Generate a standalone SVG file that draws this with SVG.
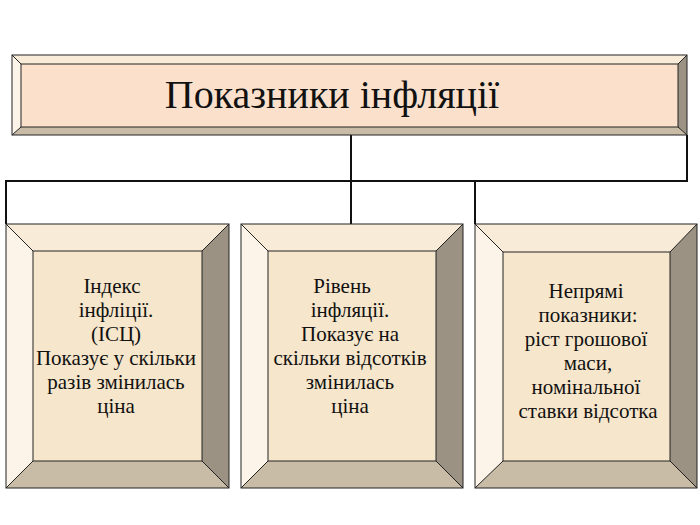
<svg xmlns="http://www.w3.org/2000/svg" width="700" height="525" viewBox="0 0 700 525">
<style>
.t{font-family:"Liberation Serif","Times New Roman",serif;font-size:21px;fill:#111;text-anchor:middle}
.ln{stroke:#111;stroke-width:2;fill:none}
.e{stroke:#222;stroke-width:1}
.top{fill:#f8ecd8}.lef{fill:#fcf4e8}.rig{fill:#9b9284}.bot{fill:#c9bca7}.face{fill:#f6e6cb}
</style>
<rect width="700" height="525" fill="#fff"/>
<g id="connectors" class="ln">
<path d="M351 135V224M6 224V181H687V135M475 181V224"/>
</g>
<g id="title">
<polygon class="top" points="12,55 687,55 678,64 21,64"/>
<polygon class="lef" points="12,55 21,64 21,127 12,135"/>
<polygon class="rig" points="687,55 687,135 678,127 678,64"/>
<polygon class="bot" points="12,135 687,135 678,127 21,127"/>
<rect x="21" y="64" width="657" height="63" fill="#fbe1cc" class="e"/>
<rect x="12" y="55" width="675" height="80" fill="none" class="e"/>
<path class="e" d="M12 55L21 64M687 55L678 64M12 135L21 127M687 135L678 127"/>
<text x="332" y="108" style="font-family:'Liberation Serif','Times New Roman',serif;font-size:40px;fill:#111;text-anchor:middle">Показники інфляції</text>
</g>
<g id="box1">
<polygon class="top" points="6,224 229,224 202,251 33,251"/>
<polygon class="lef" points="6,224 33,251 33,461 6,488"/>
<polygon class="rig" points="229,224 229,488 202,461 202,251"/>
<polygon class="bot" points="6,488 229,488 202,461 33,461"/>
<rect x="33" y="251" width="169" height="210" class="face e"/>
<rect x="6" y="224" width="223" height="264" fill="none" class="e"/>
<path class="e" d="M6 224L33 251M229 224L202 251M6 488L33 461M229 488L202 461"/>
<text class="t"><tspan x="112" y="293">Індекс</tspan><tspan x="116" y="317">інфліції.</tspan><tspan x="116" y="341">(ІСЦ)</tspan><tspan x="116" y="365">Показує у скільки</tspan><tspan x="116" y="389">разів змінилась</tspan><tspan x="116" y="413">ціна</tspan></text>
</g>
<g id="box2">
<polygon class="top" points="241,224 463,224 436,251 268,251"/>
<polygon class="lef" points="241,224 268,251 268,461 241,488"/>
<polygon class="rig" points="463,224 463,488 436,461 436,251"/>
<polygon class="bot" points="241,488 463,488 436,461 268,461"/>
<rect x="268" y="251" width="168" height="210" class="face e"/>
<rect x="241" y="224" width="222" height="264" fill="none" class="e"/>
<path class="e" d="M241 224L268 251M463 224L436 251M241 488L268 461M463 488L436 461"/>
<text class="t"><tspan x="342" y="293">Рівень</tspan><tspan x="350" y="317">інфляції.</tspan><tspan x="350" y="341">Показує на</tspan><tspan x="350" y="365">скільки відсотків</tspan><tspan x="350" y="389">змінилась</tspan><tspan x="350" y="413">ціна</tspan></text>
</g>
<g id="box3">
<polygon class="top" points="475,224 697,224 670,252 503,252"/>
<polygon class="lef" points="475,224 503,252 503,461 475,488"/>
<polygon class="rig" points="697,224 697,488 670,461 670,252"/>
<polygon class="bot" points="475,488 697,488 670,461 503,461"/>
<rect x="503" y="252" width="167" height="209" class="face e"/>
<rect x="475" y="224" width="222" height="264" fill="none" class="e"/>
<path class="e" d="M475 224L503 252M697 224L670 252M475 488L503 461M697 488L670 461"/>
<text class="t"><tspan x="586" y="298">Непрямі</tspan><tspan x="588" y="322">показники:</tspan><tspan x="586" y="346">ріст грошової</tspan><tspan x="588" y="370">маси,</tspan><tspan x="586" y="394">номінальної</tspan><tspan x="588" y="418">ставки відсотка</tspan></text>
</g>
</svg>
